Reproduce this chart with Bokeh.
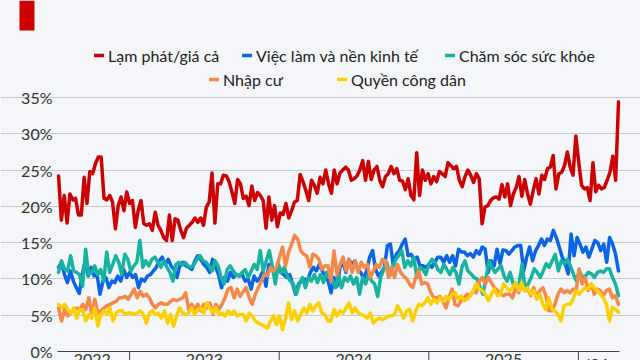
import numpy as np
from bokeh.plotting import figure
from bokeh.models import (Range1d, FixedTicker, Legend, LegendItem, BoxAnnotation)
from bokeh.core.properties import value
from bokeh.embed import file_html
from bokeh.resources import INLINE

# ---------------- data (weekly shares, %) ----------------
SERIES_NAMES = ["Lạm phát/giá cả", "Việc làm và nền kinh tế", "Chăm sóc sức khỏe",
                "Nhập cư", "Quyền công dân"]

inflation = [24.2, 18.1, 21.5, 17.7, 21.7, 20.9, 21.1, 18.8, 18.8, 24.0, 20.4, 24.8, 24.5, 25.9, 26.8, 26.8,
             21.1, 20.9, 21.5, 20.6, 16.9, 20.1, 21.3, 19.4, 22.0, 20.4, 20.8, 17.1, 19.4, 20.8, 17.6, 17.4,
             17.6, 16.7, 19.2, 17.4, 16.7, 15.7, 15.3, 18.8, 15.3, 18.3, 18.1, 16.7, 15.7, 17.0, 17.4,
             17.8, 18.4, 17.8, 18.4, 17.4, 19.9, 20.6, 24.6, 17.7, 23.1, 23.1, 24.3, 24.2, 23.4, 22.0, 20.4,
             23.7, 23.1, 21.1, 21.4, 20.1, 22.8, 20.8, 21.9, 21.5, 20.8, 17.0, 21.3, 18.1, 20.1, 17.2, 19.1,
             18.9, 20.4, 18.4, 19.4, 20.6, 20.8, 24.4, 23.4, 22.2, 20.8, 23.6, 22.9, 21.8, 24.0, 23.1,
             25.0, 23.1, 21.8, 25.0, 23.1, 24.6, 25.0, 25.4, 25.0, 23.6, 23.8, 24.2, 25.0, 26.3, 23.6, 26.2,
             23.7, 25.0, 25.5, 23.6, 22.7, 24.1, 24.5, 25.5, 24.5, 25.2, 23.6, 23.5, 22.3, 23.8, 21.5, 20.9,
             27.4, 21.5, 25.0, 23.6, 24.5, 23.1, 24.1, 23.4, 24.8, 24.5, 24.1, 26.0, 25.6, 25.2, 25.5, 23.6,
             22.7, 24.1,
             25.0, 24.3, 23.3, 24.5, 23.8, 17.6, 19.9, 20.1, 20.8, 21.2, 21.3, 21.0, 23.0, 21.3, 23.1, 20.1,
             21.7, 22.6, 24.1, 21.4, 23.7, 21.7, 20.3, 22.2, 23.8, 21.7, 24.3, 23.7, 25.2, 25.4, 27.0, 22.4,
             24.5, 24.7, 25.6, 27.5, 25.4, 24.3, 29.7, 26.1, 22.9, 22.4, 22.6, 20.8, 26.0, 22.0, 22.9, 22.4,
             22.6, 23.6, 24.7, 26.9, 23.6, 34.4]

jobs_economy = [11.6, 12.3, 10.6, 9.5, 11.1, 9.7, 8.8, 8.0, 10.6, 12.5, 10.4, 11.6, 10.4, 10.6, 7.9, 9.7,
                10.2, 8.8, 9.7, 9.5, 10.4, 9.7, 11.3, 10.2, 10.9, 10.2, 10.6, 8.8, 10.0, 9.7, 10.4, 10.6,
                11.1, 11.6, 12.5, 13.0, 12.0, 12.7, 11.8, 11.3, 10.2, 12.0, 12.3, 11.8, 11.6,
                11.3, 12.5, 13.2, 12.7, 12.0, 11.6, 10.9, 12.7, 11.6, 10.6, 8.8, 10.2, 9.7, 10.9, 10.2, 10.6,
                10.4, 10.6, 9.7, 10.0, 8.6, 10.4, 9.7, 10.2, 11.1, 9.0, 12.0, 11.3, 11.1, 11.6, 10.9, 10.6,
                10.2, 10.6, 9.3, 7.9, 9.3, 9.7, 10.0, 9.7, 10.9, 11.6, 11.1,
                12.0, 11.1, 10.4, 9.7, 8.1, 10.2, 9.0, 11.6, 12.3, 10.9, 12.7, 12.0, 12.5, 11.3, 10.9, 10.0,
                11.1, 13.0, 13.9, 11.3, 10.4, 10.9, 11.6, 14.6, 14.8, 11.8, 13.4, 13.9, 14.8, 15.5, 13.2, 13.4,
                12.7, 13.0, 11.8, 11.8, 11.6, 12.0, 11.6, 12.3, 13.0, 13.0, 12.3, 13.2, 12.3, 13.2, 11.8, 14.1,
                13.7,
                13.7, 13.2, 13.5, 13.0, 13.9, 13.4, 14.4, 14.1, 10.9, 12.5, 11.8, 14.1, 12.1, 14.0, 13.9, 13.4,
                13.9, 14.4, 14.6, 14.6, 11.1, 13.0, 14.4, 12.5, 13.9, 14.6, 15.5, 14.6, 15.5, 15.3, 16.7, 15.7,
                14.4, 13.0, 12.1, 10.7, 16.2, 13.2, 15.7, 14.8, 13.7, 14.4, 13.0, 14.1, 15.3, 15.0, 13.9, 14.8,
                12.3, 15.7, 14.8, 13.4, 11.1]

health_care = [10.9, 12.5, 11.3, 11.1, 13.2, 11.1, 10.9, 10.6, 9.0, 14.1, 10.6, 10.9, 11.8, 10.6, 11.3, 9.7,
               13.7, 10.9, 12.0, 13.2, 12.3, 10.6, 13.4, 12.7, 11.1, 11.8, 12.3, 15.3, 11.6, 12.5, 11.8, 12.7,
               13.0, 12.3, 11.6, 12.5, 11.6, 10.9, 9.7, 12.0, 12.3, 11.9, 12.3, 11.8, 11.6,
               12.0, 12.7, 13.2, 12.5, 12.3, 11.8, 11.1, 12.5, 11.8, 10.2, 9.3, 11.3, 11.8, 11.1, 10.6, 10.4,
               10.9, 11.3, 10.2, 11.1, 12.0, 11.3, 13.9, 11.1, 12.5, 13.9, 11.8, 9.3, 12.0, 10.9, 11.6, 10.4,
               9.7, 9.3, 7.9, 9.3, 10.2, 8.8, 10.2, 9.7, 10.6, 9.5,
               10.6, 9.5, 10.9, 10.2, 9.7, 8.8, 10.6, 8.8, 10.2, 9.7, 10.4, 9.3, 10.2, 7.9, 10.2, 9.3,
               10.6, 9.7, 9.3, 7.6, 10.2, 11.3, 12.3, 10.4, 11.6, 12.7, 13.2, 13.9, 11.6, 12.5, 11.8, 13.0,
               10.2, 11.6, 11.3, 10.6, 12.0, 12.7, 12.3, 11.3, 10.9, 12.0, 11.3, 10.6, 11.6, 10.9, 9.3,
               11.6, 12.5, 11.1, 10.7, 10.2, 10.0, 8.8, 7.9, 10.2, 12.5, 11.6, 10.9, 11.4, 11.8, 10.4, 9.7,
               10.9, 9.3, 8.8, 9.3, 12.1, 8.4, 9.3, 10.2, 11.4, 10.9, 10.2, 11.1, 12.1, 11.6, 12.5, 13.4,
               11.1, 12.5, 12.1, 12.7, 11.8, 10.7, 9.7, 11.1, 10.2, 10.4, 10.9, 10.7, 10.2, 10.9, 11.1, 10.9,
               11.4, 11.4, 10.2, 9.3, 7.7]

immigration = [6.0, 4.2, 5.8, 4.9, 5.3, 5.8, 6.0, 5.8, 6.5, 5.8, 7.4, 5.1, 7.2, 5.3, 5.6, 6.0,
               6.3, 6.5, 6.7, 6.9, 7.4, 7.4, 7.6, 7.2, 7.9, 8.6, 7.4, 8.3, 7.6, 7.9, 7.4, 6.5,
               6.0, 6.5, 6.7, 6.5, 6.5, 6.9, 7.2, 7.0, 7.2, 7.4, 8.1, 5.8, 6.5,
               5.8, 6.5, 5.6, 6.5, 6.0, 6.7, 5.1, 6.5, 5.8, 6.5, 7.4, 8.6, 8.8, 7.4, 8.6, 7.6,
               8.3, 8.8, 7.4, 6.5, 7.9, 8.8, 9.7, 10.6, 10.4, 11.6, 11.1, 11.6, 13.0, 14.4, 11.8, 13.7,
               14.8, 16.0, 15.5, 13.9, 13.4, 13.2, 11.6, 13.4, 13.2, 12.7, 11.3, 11.8,
               11.8, 9.7, 13.9, 10.6, 12.0, 13.0, 11.1, 12.7, 10.9, 12.5, 10.9, 12.3, 11.6, 12.0, 10.2, 11.1,
               12.0, 11.6, 12.7, 12.5, 10.2, 11.6, 10.2, 12.0, 10.9, 10.4, 10.0, 9.3, 8.8, 10.2, 11.1, 9.3,
               9.5, 9.3, 8.1, 7.4, 7.4, 7.6, 6.9, 6.0, 7.4, 8.6, 6.5, 6.3,
               7.0, 7.4, 7.9, 7.7, 8.4, 8.1, 9.7, 10.2, 9.3, 10.2, 9.5, 8.8, 8.4, 7.9, 7.7, 7.9,
               7.9, 7.4, 8.8, 8.1, 9.3, 8.4, 8.6, 7.7, 8.8, 7.4, 8.4, 8.8, 7.7, 5.6, 5.6, 6.5,
               7.9, 8.6, 8.1, 8.4, 8.1, 8.6, 8.4, 11.4, 9.3, 10.2, 8.4, 9.3, 7.9, 8.6, 8.4, 7.7,
               8.4, 8.6, 7.4, 7.7, 6.5]

civil_rights = [6.5, 6.0, 6.5, 5.8, 5.3, 6.0, 4.6, 5.8, 5.6, 4.2, 5.1, 4.6, 6.0, 3.5, 5.1, 5.6,
                5.1, 6.0, 4.2, 5.3, 5.6, 5.6, 5.1, 5.3, 5.3, 5.1, 5.3, 5.6, 5.1, 3.9, 5.3, 5.6,
                5.1, 5.3, 4.6, 5.6, 3.9, 5.1, 3.5, 4.9, 6.0, 5.3, 5.1, 5.3,
                6.0, 5.1, 5.8, 6.0, 5.3, 6.7, 6.0, 5.3, 6.0, 5.1, 5.3, 4.9, 5.6, 5.1, 5.6, 4.9,
                5.1, 5.1, 4.2, 5.3, 4.9, 4.2, 3.9, 3.7, 3.5, 3.2, 4.2, 4.9, 3.7, 4.9, 3.0, 4.6,
                6.7, 4.4, 5.6, 4.2, 5.1, 6.0, 5.3, 6.5, 5.6, 6.3, 6.7, 5.3,
                5.1, 4.2, 4.2, 5.8, 4.9, 5.6, 5.3, 6.0, 6.7, 5.3, 6.0, 5.3, 5.1, 4.9, 4.6, 5.3,
                3.9, 4.4, 4.6, 4.4, 4.6, 4.9, 4.9, 5.1, 6.3, 5.6, 4.6, 5.6, 5.8, 4.2, 5.6, 6.5,
                6.3, 6.7, 7.4, 6.5, 7.2, 6.7, 7.4, 6.9, 7.6, 7.2, 7.9, 8.1,
                7.2, 7.7, 7.0, 7.2, 7.7, 8.4, 9.3, 8.6, 8.4, 7.9, 7.0, 7.9, 8.6, 7.7, 7.9, 9.3,
                8.8, 8.4, 8.8, 9.5, 8.4, 9.5, 8.4, 8.8, 7.9, 8.4, 7.2, 7.9, 6.5, 5.8, 7.4, 5.8,
                5.6, 5.1, 4.2, 6.3, 6.5, 6.5, 7.2, 8.4, 7.9, 8.4, 8.8, 8.6, 9.3, 8.8, 8.4, 7.9,
                7.4, 6.5, 4.2, 6.1, 5.8, 5.4]

Y_TICKS = [0, 5, 10, 15, 20, 25, 30, 35]
Y_LABELS = ["0%", "5%", "10%", "15%", "20%", "25%", "30%", "35%"]
YEAR_LABELS = ["2022", "2023", "2024", "2025", "'26"]
YEAR_LABEL_POS = [2022.75, 2023.5, 2024.5, 2025.5, 2026.13]
YEAR_BOUNDARIES = [2023, 2024, 2025, 2026]
DATA_START, DATA_END = 2022.525, 2026.268   # first / last survey week (fractional year)

COLORS = ["#cc0000", "#0a64e6", "#17b3a0", "#f5894a", "#ffd000"]
BG = "#f4f6f9"
GRID = "#c6cacf"
AXIS = "#444444"

W, H = 640, 360
X0, X1 = 2022.137, 2026.415
Y0, Y1 = -1.240, 48.37


def px_to_x(px):
    return X0 + px / W * (X1 - X0)


PLOT_LEFT, PLOT_RIGHT = px_to_x(57), px_to_x(619)
LABEL_X = px_to_x(52)

# ---------------- figure ----------------
p = figure(width=W, height=H, output_backend="svg", toolbar_location=None,
           x_range=Range1d(X0, X1), y_range=Range1d(Y0, Y1),
           x_axis_location=None, y_axis_location=None,
           min_border=0, min_border_left=0, min_border_right=0,
           min_border_top=0, min_border_bottom=0,
           background_fill_color=BG, border_fill_color=BG, outline_line_color=None)

for g in p.xgrid:
    g.visible = False
p.ygrid.ticker = FixedTicker(ticks=Y_TICKS[1:])
p.ygrid.grid_line_color = GRID
p.ygrid.grid_line_width = 1
p.ygrid.bounds = (PLOT_LEFT, PLOT_RIGHT)

# y tick labels
p.text(x=[LABEL_X] * len(Y_TICKS), y=Y_TICKS, text=Y_LABELS,
       text_align="right", text_baseline="middle",
       text_font=value("Lato"), text_font_size="16px", text_color="#333333")

series = [inflation, jobs_economy, health_care, immigration, civil_rights]
renderers = []
for vals, col in zip(series, COLORS):
    xs = np.linspace(DATA_START, DATA_END, len(vals))
    r = p.line(xs, vals, line_color=col, line_width=3.5, line_join="round", line_cap="round")
    renderers.append(r)

# x axis line, year boundary ticks, year labels
p.segment(x0=[PLOT_LEFT], y0=[0], x1=[PLOT_RIGHT], y1=[0], line_color=AXIS, line_width=1)
p.segment(x0=YEAR_BOUNDARIES, y0=[0] * 4, x1=YEAR_BOUNDARIES, y1=[Y0] * 4,
          line_color=AXIS, line_width=1)
p.text(x=YEAR_LABEL_POS, y=[-0.35] * len(YEAR_LABELS), text=YEAR_LABELS,
       text_align="center", text_baseline="top",
       text_font=value("Lato"), text_font_size="16px", text_color="#333333")

# legends: one per item, two rows (location = bottom-left corner in frame px)
legend_pos = [(94, 295), (242, 295), (445, 295), (209, 271), (337, 271)]
for name, r, loc in zip(SERIES_NAMES, renderers, legend_pos):
    lg = Legend(items=[LegendItem(label=name, renderers=[r])], location=loc,
                orientation="horizontal", padding=0, margin=0, spacing=0,
                glyph_width=10, glyph_height=20, label_height=20, label_standoff=4,
                border_line_color=None, background_fill_alpha=0,
                label_text_font="Lato", label_text_font_size="16px",
                label_text_color="#222222")
    p.add_layout(lg)

# red corner tab
p.add_layout(BoxAnnotation(left=19, right=34, bottom=H - 30, top=H,
                           left_units="screen", right_units="screen",
                           top_units="screen", bottom_units="screen",
                           fill_color="#d00000", fill_alpha=1, line_color=None))

open("out.html", "w").write(file_html(p, INLINE))
